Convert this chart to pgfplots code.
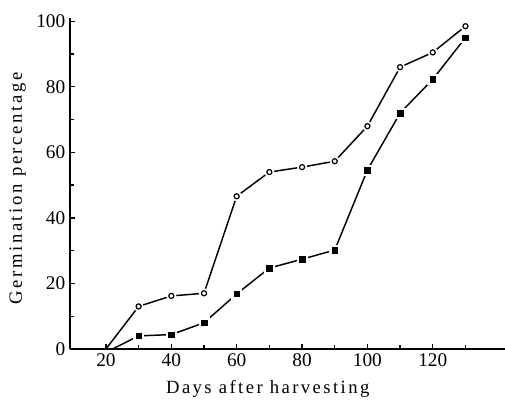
\documentclass[border=0pt]{standalone}
\usepackage{fontspec}
\setmainfont{Liberation Serif}
\usepackage{pgfplots}
\pgfplotsset{compat=1.18}
\begin{document}
\begin{tikzpicture}
\begin{axis}[
  at={(52.5pt,40.5pt)}, anchor=south west,
  scale only axis,
  width=326pt, height=248pt,
  xmin=9, xmax=142, ymin=0, ymax=100.9,
  axis lines=left,
  axis line style={line width=1.6pt, -},
  xtick={20,40,...,120}, ytick={0,20,...,100},
  minor xtick={30,50,...,130}, minor ytick={10,30,...,90},
  tick align=inside,
  major tick length=4pt, minor tick length=3pt,
  tick style={line width=1pt, black},
  /pgf/number format/assume math mode=true,
  ticklabel style={font=\fontsize{14.5}{16}\selectfont},
  xlabel={\addfontfeature{LetterSpace=13}Days after harvesting},
  ylabel={\addfontfeature{LetterSpace=14}Germination percentage},
  label style={font=\fontsize{14}{16}\selectfont},
  xlabel style={at={(ticklabel cs:0.455)}, yshift=-3pt},
  ylabel style={at={(ticklabel cs:0.485)}, yshift=1pt},
  clip=false,
]
\addplot[black, line width=1.1pt] coordinates {(20,0) (30,13) (40,16.2) (50,17) (60,46.6) (70,54) (80,55.5) (90,57.3) (100,68) (110,86) (120,90.5) (130,98.5)};
\addplot[black, line width=1.1pt] coordinates {(22,0) (30,4) (40,4.4) (50,8) (60,16.8) (70,24.7) (80,27.4) (90,30.2) (100,54.6) (110,72) (120,82.3) (130,95)};
\addplot[only marks, mark=*, mark size=3.6pt, white, mark options={draw=white, fill=white}]
coordinates {(30,13) (40,16.2) (50,17) (60,46.6) (70,54) (80,55.5) (90,57.3) (100,68) (110,86) (120,90.5) (130,98.5)};
\addplot[only marks, mark=square*, mark size=3.8pt, white, mark options={draw=white, fill=white}]
coordinates {(30,4) (40,4.4) (50,8) (60,16.8) (70,24.7) (80,27.4) (90,30.2) (100,54.6) (110,72) (120,82.3) (130,95)};
\addplot[only marks, black, mark=o, mark size=1.9pt, mark options={line width=0.9pt, fill=white}]
coordinates {(30,13) (40,16.2) (50,17) (60,46.6) (70,54) (80,55.5) (90,57.3) (100,68) (110,86) (120,90.5) (130,98.5)};
\addplot[only marks, black, mark=square*, mark size=2.1pt]
coordinates {(30,4) (40,4.4) (50,8) (60,16.8) (70,24.7) (80,27.4) (90,30.2) (100,54.6) (110,72) (120,82.3) (130,95)};
\end{axis}
\pgfresetboundingbox
\path (0,0) rectangle (378.75pt,302.25pt);
\end{tikzpicture}
\end{document}
